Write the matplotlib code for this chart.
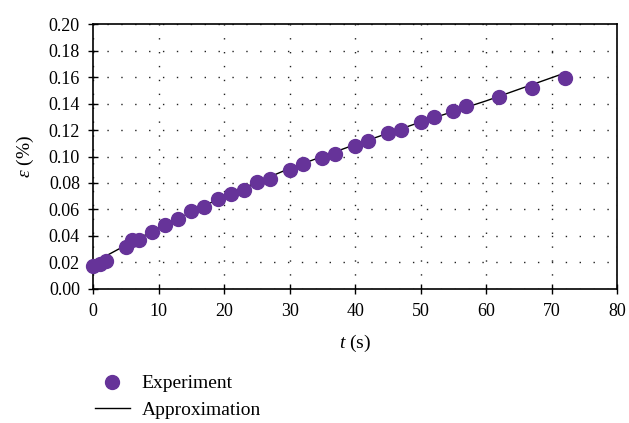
import numpy as np
import matplotlib
matplotlib.use('Agg')
import matplotlib.pyplot as plt

plt.rcParams['font.family'] = ['Liberation Serif', 'DejaVu Serif']
plt.rcParams['mathtext.fontset'] = 'custom'
plt.rcParams['mathtext.it'] = 'Liberation Serif:italic'
plt.rcParams['mathtext.rm'] = 'Liberation Serif'

## experimental points
t_exp = [0, 1, 2, 5, 6, 7, 9, 11, 13, 15, 17, 19, 21, 23, 25, 27, 30, 32, 35, 37,
         40, 42, 45, 47, 50, 52, 55, 57, 62, 67, 72]
eps_exp = [0.017, 0.019, 0.021, 0.032, 0.037, 0.037, 0.043, 0.048, 0.053, 0.059,
           0.062, 0.068, 0.072, 0.075, 0.081, 0.083, 0.090, 0.094, 0.099, 0.102,
           0.108, 0.112, 0.118, 0.120, 0.126, 0.130, 0.134, 0.138, 0.145, 0.152, 0.1595]

## approximation curve
t_apx = [0, 2, 5, 10, 15, 20, 30, 40, 50, 60, 72]
eps_apx = [0.019, 0.025, 0.033, 0.046, 0.058, 0.070, 0.091, 0.109, 0.126, 0.142, 0.163]

purple = '#663399'

fig = plt.figure(figsize=(6.29, 4.23), dpi=100)
ax = fig.add_axes([0.148, 0.317, 0.833, 0.626])

ax.plot(t_apx, eps_apx, color='black', lw=1.0, label='Approximation', zorder=2)
ax.plot(t_exp, eps_exp, 'o', color=purple, ms=10, mec=purple, label='Experiment',
        zorder=3, clip_on=False)

ax.set_xlim(0, 80)
ax.set_ylim(0, 0.2)
ax.set_xticks(np.arange(0, 81, 10))
ax.set_yticks(np.arange(0, 0.201, 0.02))
ax.set_yticklabels(['%.2f' % v for v in np.arange(0, 0.201, 0.02)])
ax.grid(True, color='#222222', linestyle=(0, (1, 9)), lw=1.0)
ax.tick_params(direction='inout', length=7, width=1, labelsize=13, color='black')
ax.tick_params(axis='x', pad=7)
ax.tick_params(axis='y', pad=6)
for s in ax.spines.values():
    s.set_linewidth(1.2)

ax.set_xlabel(r'$t$ (s)', fontsize=14, labelpad=9)
ax.set_ylabel(r'$\varepsilon$ (%)', fontsize=14, labelpad=9)

h, l = ax.get_legend_handles_labels()
fig.legend([h[1], h[0]], [l[1], l[0]], loc='upper left', bbox_to_anchor=(0.151, 0.114),
           frameon=False, fontsize=14, handlelength=1.8, handletextpad=0.6,
           labelspacing=0.45, borderpad=0, borderaxespad=0)

fig.savefig('out.png', dpi=100)
